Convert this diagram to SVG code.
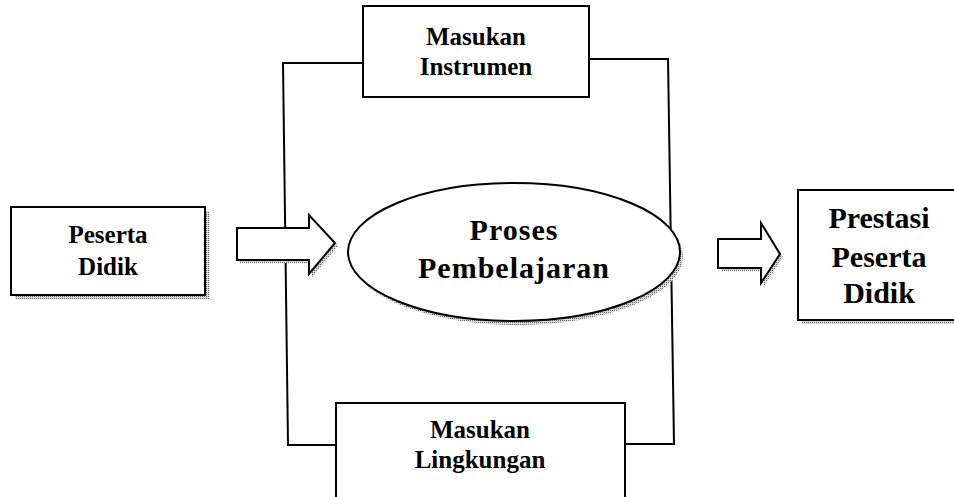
<svg xmlns="http://www.w3.org/2000/svg" width="954" height="497" viewBox="0 0 954 497">
  <defs>
    <pattern id="dots" width="2" height="2" patternUnits="userSpaceOnUse">
      <rect width="2" height="2" fill="#d8d8d8"/>
      <rect width="1" height="1" fill="#6a6a6a"/>
    </pattern>
  </defs>
  <style>
    .box { fill: #ffffff; stroke: #000000; stroke-width: 2; }
    .shadow { fill: url(#dots); stroke: none; }
    .conn { fill: none; stroke: #000000; stroke-width: 2; }
    .t { font-family: "Liberation Serif", "Times New Roman", serif; font-weight: bold; fill: #000000; text-anchor: middle; }
    .s { font-size: 25px; }
    .l { font-size: 30px; }
  </style>
  <rect width="954" height="497" fill="#ffffff"/>

  <g id="connectors">
    <polyline class="conn" points="363,63 283,63 288,445 336,445"/>
    <polyline class="conn" points="589,59 668,59 674,444 625,444"/>
  </g>

  <g id="peserta-didik">
    <rect class="shadow" x="15" y="211" width="194" height="88"/>
    <rect class="box" x="11" y="207" width="194" height="88"/>
    <text class="t s" x="108" y="243">Peserta</text>
    <text class="t s" x="108" y="275">Didik</text>
  </g>

  <g id="arrow-in">
    <polygon class="shadow" points="240,231 312,231 312,218 338,246 312,277 312,263 240,263"/>
    <polygon class="box" points="237,228 309,228 309,215 335,243 309,274 309,260 237,260"/>
  </g>

  <g id="masukan-instrumen">
    <rect class="box" x="363" y="6" width="226" height="91"/>
    <text class="t s" x="476" y="45">Masukan</text>
    <text class="t s" x="476" y="75">Instrumen</text>
  </g>

  <g id="proses-pembelajaran">
    <ellipse class="shadow" cx="517" cy="256" rx="166" ry="69"/>
    <ellipse class="box" cx="514" cy="252" rx="166" ry="69"/>
    <text class="t l" x="514" y="240" letter-spacing="1">Proses</text>
    <text class="t l" x="514" y="278" letter-spacing="1">Pembelajaran</text>
  </g>

  <g id="masukan-lingkungan">
    <rect class="box" x="336" y="403" width="289" height="120"/>
    <text class="t s" x="480" y="438">Masukan</text>
    <text class="t s" x="480" y="468">Lingkungan</text>
  </g>

  <g id="arrow-out">
    <polygon class="shadow" points="721,242 764,242 764,226 783,257 764,286 764,271 721,271"/>
    <polygon class="box" points="718,239 761,239 761,223 780,254 761,283 761,268 718,268"/>
  </g>

  <g id="prestasi-peserta-didik">
    <rect class="shadow" x="802" y="194" width="160" height="130"/>
    <rect class="box" x="798" y="190" width="160" height="130"/>
    <text class="t l" x="879" y="228">Prestasi</text>
    <text class="t l" x="879" y="267">Peserta</text>
    <text class="t l" x="879" y="303">Didik</text>
  </g>
</svg>
